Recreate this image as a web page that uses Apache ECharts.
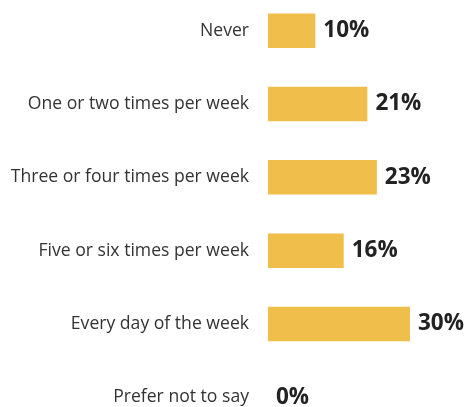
<!DOCTYPE html>
<html><head><meta charset="utf-8">
<script src="https://cdn.jsdelivr.net/npm/echarts@6/dist/echarts.min.js"></script>
<style>html,body{margin:0;padding:0;background:#fff;overflow:hidden}#c{position:absolute;left:0;top:-6px;width:467px;height:450px}</style>
</head><body><div id="c"></div>
<script>
const categories = ["Never","One or two times per week","Three or four times per week","Five or six times per week","Every day of the week","Prefer not to say"];
const values = [10,21,23,16,30,0];
const chart = echarts.init(document.getElementById('c'), null, {renderer:'canvas'});
chart.setOption({
  animation:false,
  grid:{left:268, top:0, width:189.3, height:440},
  xAxis:{type:'value', min:0, max:40, show:false},
  yAxis:{type:'category', data:categories, inverse:true,
    axisLine:{show:false}, axisTick:{show:false},
    axisLabel:{margin:19, fontFamily:'Open Sans', fontSize:17.6, color:'#333'}},
  series:[{type:'bar', data:values, barWidth:'47%',
    itemStyle:{color:'#F0BE4A'},
    label:{show:true, position:'right', distance:8, formatter:'{c}%',
      fontFamily:'Open Sans', fontWeight:'bold', fontSize:22.5, color:'#222'}}]
});
</script></body></html>
